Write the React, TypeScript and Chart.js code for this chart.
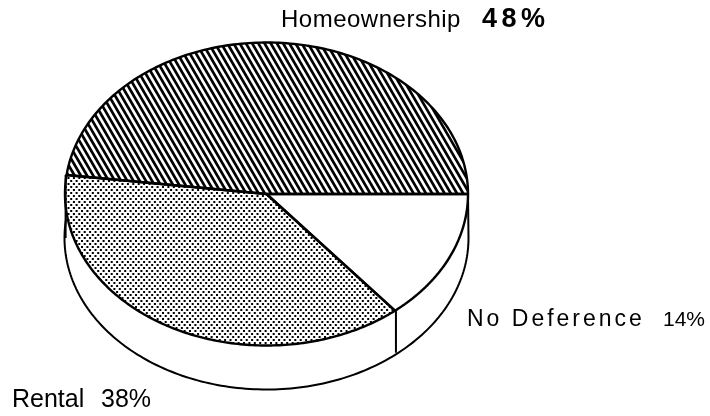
import React, { useEffect, useRef } from "react";
import { Chart, registerables } from "chart.js";

Chart.register(...registerables);

const categories = ["Homeownership", "No Deference", "Rental"];
const shares = [48, 14, 38];

const APEX_Y = 194;
const Y_RATIO = 151.5 / 201.5;
const DEPTH = 44;
const INK = "#000";

type Arc = { x: number; y: number; startAngle: number; endAngle: number; outerRadius: number };

function mapPoint(a: Arc, angle: number, radius: number) {
  return {
    x: a.x + radius * Math.cos(angle),
    y: APEX_Y + radius * Math.sin(angle) * Y_RATIO,
  };
}

function tracePie(ctx: CanvasRenderingContext2D, a: Arc) {
  ctx.beginPath();
  ctx.moveTo(a.x, APEX_Y);
  const n = 160;
  for (let i = 0; i <= n; i++) {
    const p = mapPoint(a, a.startAngle + ((a.endAngle - a.startAngle) * i) / n, a.outerRadius);
    ctx.lineTo(p.x, p.y);
  }
  ctx.closePath();
}

function fillHatch(ctx: CanvasRenderingContext2D) {
  ctx.strokeStyle = INK;
  ctx.lineWidth = 2.7;
  const period = 6.2;
  const slant = 0.58;
  for (let x = -300; x < 710; x += period) {
    ctx.beginPath();
    ctx.moveTo(x, 0);
    ctx.lineTo(x + slant * 416, 416);
    ctx.stroke();
  }
}

function fillStipple(ctx: CanvasRenderingContext2D) {
  ctx.fillStyle = "#000";
  const px = 5.4;
  const py = 3;
  for (let r = 0; r * py < 416; r++) {
    for (let c = 0; c * px < 720; c++) {
      ctx.fillRect(c * px + (r % 2 ? px / 2 : 0), r * py, 2, 2);
    }
  }
}

const fills = [fillHatch, null, fillStipple];

const piePlugin = {
  id: "obliquePie",
  beforeDatasetDraw(chart: any) {
    const ctx: CanvasRenderingContext2D = chart.ctx;
    const arcs: Arc[] = chart.getDatasetMeta(0).data.map((el: any) =>
      el.getProps(["x", "y", "startAngle", "endAngle", "outerRadius"], true)
    );
    const first = arcs[0];
    const cx = first.x;
    const R = first.outerRadius;

    // side wall
    ctx.save();
    ctx.strokeStyle = INK;
    ctx.lineWidth = 2;
    ctx.lineJoin = "round";
    ctx.beginPath();
    const wallFrom = arcs[2].endAngle;
    const wallTo = arcs[1].startAngle;
    const steps = 160;
    const wy = (t: number) => APEX_Y + DEPTH + R * Math.sin(t) * Y_RATIO;
    for (let i = 0; i <= steps; i++) {
      const t = wallTo + ((wallFrom - wallTo) * i) / steps;
      const x = cx + (R + 0.5) * Math.cos(t);
      if (i === 0) ctx.moveTo(x, wy(t));
      else ctx.lineTo(x, wy(t));
    }
    ctx.stroke();
    // wall seam under the boundary of No Deference and Rental
    const seam = mapPoint(arcs[1], arcs[1].endAngle, R);
    ctx.beginPath();
    ctx.moveTo(seam.x + 1, seam.y);
    ctx.lineTo(seam.x + 1, wy(arcs[1].endAngle) - 2);
    ctx.stroke();
    // left and right vertical edges
    ctx.beginPath();
    ctx.moveTo(cx + R, APEX_Y);
    ctx.lineTo(cx + R + 0.5, APEX_Y + DEPTH);
    ctx.stroke();
    const l = mapPoint(arcs[2], arcs[2].endAngle, R);
    ctx.beginPath();
    ctx.moveTo(l.x - 1, l.y);
    ctx.lineTo(l.x - 1, APEX_Y + DEPTH);
    ctx.stroke();
    ctx.restore();

    // faces
    arcs.forEach((a, i) => {
      const fill = fills[i];
      if (!fill) return;
      ctx.save();
      tracePie(ctx, a);
      ctx.clip();
      fill(ctx);
      ctx.restore();
    });
    arcs.forEach((a) => {
      ctx.save();
      tracePie(ctx, a);
      ctx.strokeStyle = INK;
      ctx.lineWidth = 2.4;
      ctx.lineJoin = "round";
      ctx.stroke();
      ctx.restore();
    });
    return false;
  },
  afterDraw(chart: any) {
    const ctx: CanvasRenderingContext2D = chart.ctx;
    const put = (t: string, x: number, y: number, font: string, sp: string) => {
      ctx.font = font;
      (ctx as any).letterSpacing = sp;
      ctx.fillStyle = "#000";
      ctx.textBaseline = "alphabetic";
      ctx.fillText(t, x, y);
    };
    const f = '"Liberation Sans"';
    put(categories[0], 281, 27, `24px ${f}`, "0.5px");
    put(`${shares[0]}%`, 482, 27, `bold 27px ${f}`, "4.5px");
    put(categories[1], 467, 326, `23px ${f}`, "3px");
    put(`${shares[1]}%`, 663, 326, `21px ${f}`, "0px");
    put(categories[2], 12, 407, `25px ${f}`, "0px");
    put(`${shares[2]}%`, 101, 407, `25px ${f}`, "0px");
  },
};

export default function App() {
  const ref = useRef<HTMLCanvasElement>(null);
  useEffect(() => {
    const chart = new Chart(ref.current!, {
      type: "pie",
      data: {
        labels: categories,
        datasets: [{ data: shares, backgroundColor: "#fff", borderWidth: 0 }],
      },
      options: {
        animation: false,
        responsive: false,
        rotation: -82.8,
        layout: { padding: { left: 65, right: 242, top: 0, bottom: 0 } },
        plugins: { legend: { display: false }, tooltip: { enabled: false }, title: { display: false } },
      },
      plugins: [piePlugin],
    });
    return () => chart.destroy();
  }, []);
  return (
    <canvas
      ref={ref}
      width={710}
      height={416}
      style={{ position: "fixed", left: 0, top: 0, width: 710, height: 416, background: "#fff" }}
    />
  );
}
